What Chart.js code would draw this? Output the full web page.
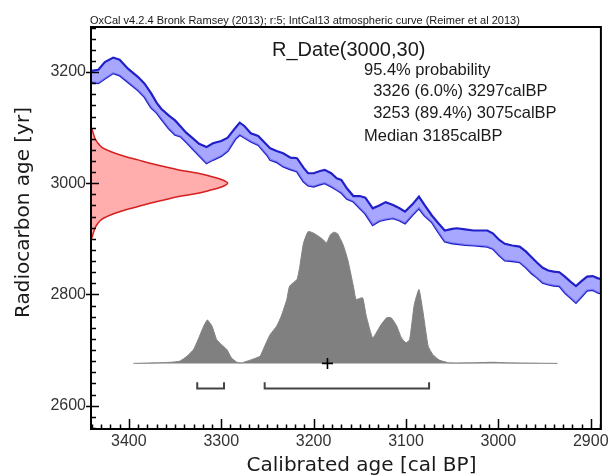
<!DOCTYPE html>
<html>
<head>
<meta charset="utf-8">
<script src="https://cdn.jsdelivr.net/npm/chart.js@4"></script>
<style>
  html, body { margin: 0; padding: 0; background: #fff; }
  canvas { display: block; }
</style>
</head>
<body>
<canvas id="chart1" width="608" height="475"></canvas>
<script>
// calibration curve (IntCal13), upper and lower edge of the band
const calBP = [3441, 3433, 3426, 3417, 3410, 3401, 3390, 3383, 3376, 3370, 3365, 3357, 3350, 3344, 3338, 3331, 3324, 3316, 3309, 3300,
  3293, 3285, 3280, 3275, 3268, 3260, 3250, 3247, 3240, 3233, 3225, 3218, 3211, 3206, 3200, 3193, 3188, 3181, 3175, 3170,
  3164, 3157, 3150, 3144, 3136, 3129, 3122, 3114, 3107, 3101, 3093, 3086, 3080, 3072, 3065, 3058, 3050, 3045, 3036, 3027,
  3018, 3012, 3006, 2999, 2993, 2985, 2977, 2970, 2964, 2958, 2952, 2946, 2940, 2934, 2928, 2922, 2916, 2910, 2904, 2898, 2892, 2889]
const calUpper = [3202, 3204, 3218, 3226, 3222, 3206, 3191, 3179, 3162, 3145, 3134, 3122, 3113, 3102, 3091, 3081, 3071, 3065, 3072, 3076,
  3082, 3099, 3109, 3103, 3090, 3085, 3068, 3063, 3058, 3054, 3046, 3045, 3028, 3018, 3018, 3022, 3024, 3018, 3009, 3006,
  2991, 2977, 2977, 2974, 2955, 2960, 2966, 2961, 2955, 2949, 2962, 2976, 2961, 2942, 2928, 2915, 2918, 2919, 2917, 2915,
  2915, 2915, 2910, 2898, 2891, 2888, 2886, 2877, 2867, 2857, 2848, 2843, 2841, 2840, 2832, 2823, 2815, 2824, 2832, 2833, 2829, 2828]
const calLower = [3182, 3180, 3188, 3198, 3194, 3182, 3167, 3155, 3136, 3127, 3116, 3099, 3087, 3084, 3074, 3062, 3050, 3036, 3042, 3049,
  3058, 3079, 3087, 3082, 3075, 3069, 3050, 3042, 3038, 3030, 3025, 3021, 3003, 2996, 2994, 2998, 3000, 2994, 2988, 2983,
  2972, 2967, 2955, 2945, 2925, 2932, 2935, 2937, 2933, 2928, 2943, 2955, 2942, 2930, 2912, 2895, 2892, 2891, 2889, 2888,
  2887, 2886, 2882, 2870, 2861, 2860, 2858, 2848, 2838, 2830, 2821, 2818, 2816, 2815, 2803, 2794, 2785, 2796, 2807, 2808, 2803, 2802]

// measured date R_Date(3000,30), drawn against the y axis
const distAge = [3102, 3095, 3087, 3080, 3072, 3065, 3060, 3054, 3048, 3042, 3036, 3030, 3024, 3018, 3013, 3009, 3004, 3000,
  2996, 2991, 2987, 2982, 2976, 2970, 2964, 2958, 2952, 2946, 2940, 2935, 2928, 2920, 2913, 2905, 2898]
const distBP = [3441, 3439.5, 3438, 3436.5, 3433.5, 3429.5, 3424, 3415, 3404, 3390, 3377, 3362, 3346, 3325, 3313, 3304, 3296, 3293,
  3296, 3304, 3313, 3325, 3346, 3362, 3377, 3390, 3404, 3415, 3424, 3429.5, 3433.5, 3436.5, 3438, 3439.5, 3441]

// calibrated distribution (top edge, in y axis units)
const histBP = [3395, 3370, 3355, 3345, 3337, 3330, 3325, 3319, 3315, 3310, 3305, 3300, 3294, 3289, 3283, 3278, 3272, 3265, 3258, 3253,
  3247, 3240, 3235, 3229, 3226, 3218, 3215, 3211, 3206, 3201, 3195, 3190, 3186, 3182, 3178, 3174, 3168, 3163, 3157, 3154,
  3147, 3143, 3136, 3128, 3121, 3116, 3110, 3105, 3100, 3096, 3091, 3086, 3082, 3076, 3071, 3064, 3053, 3030, 3005, 2990, 2936]
const histAge = [2676, 2677, 2678, 2680, 2689, 2701, 2719, 2743, 2754, 2743, 2719, 2710, 2701, 2686, 2678, 2677, 2680, 2684, 2689, 2707,
  2728, 2743, 2761, 2791, 2815, 2827, 2850, 2892, 2913, 2911, 2905, 2899, 2893, 2907, 2912, 2909, 2889, 2862, 2815, 2791,
  2794, 2761, 2722, 2743, 2758, 2758, 2743, 2722, 2713, 2719, 2782, 2809, 2773, 2707, 2692, 2682, 2677, 2677, 2678, 2677, 2676]
const histBase = 2676

// 95.4% ranges and median
const rangeFrom = [3326, 3253]
const rangeTo = [3297, 3075]
const medianBP = 3185

const xLabels = [3400, 3300, 3200, 3100, 3000, 2900]
const yLabels = [2600, 2800, 3000, 3200]

const headerText = 'OxCal v4.2.4 Bronk Ramsey (2013); r:5; IntCal13 atmospheric curve (Reimer et al 2013)'
const infoLines = ['95.4% probability', '  3326 (6.0%) 3297calBP', '  3253 (89.4%) 3075calBP', 'Median 3185calBP']

const xMin = 2889, xMax = 3441
const yMin = 2558, yMax = 3281

const pts = (xs, ys) => xs.map((x, i) => ({x: x, y: ys[i]}))

// brackets under the distribution
const bracketY = 2631, bracketTop = 2642
const brackets = rangeFrom.map((f, i) => ({
  data: [{x: f, y: bracketTop}, {x: f, y: bracketY}, {x: rangeTo[i], y: bracketY}, {x: rangeTo[i], y: bracketTop}],
  borderColor: '#444', borderWidth: 2, pointRadius: 0, fill: false
}))

const framePlugin = {
  id: 'frame',
  afterDraw(chart) {
    const ctx = chart.ctx
    const a = chart.chartArea
    const xs = chart.scales.x, ys = chart.scales.y
    ctx.save()
    ctx.strokeStyle = '#000'
    ctx.lineWidth = 1.5
    ctx.beginPath()
    xs.ticks.forEach(t => {
      const p = Math.round(xs.getPixelForValue(t.value)) + 0.5
      const len = xLabels.includes(t.value) ? 10 : 4.5
      ctx.moveTo(p, a.bottom)
      ctx.lineTo(p, a.bottom - len)
    })
    ys.ticks.forEach(t => {
      const p = Math.round(ys.getPixelForValue(t.value)) + 0.5
      if (yLabels.includes(t.value)) {
        ctx.moveTo(a.left - 5, p)
        ctx.lineTo(a.left + 8, p)
      } else {
        ctx.moveTo(a.left, p)
        ctx.lineTo(a.left + 5, p)
      }
    })
    ctx.stroke()
    ctx.lineWidth = 2
    ctx.strokeRect(a.left, a.top, a.right - a.left, a.bottom - a.top)

    // texts
    ctx.fillStyle = '#1a1a1a'
    ctx.textAlign = 'left'
    ctx.textBaseline = 'alphabetic'
    ctx.font = '11px "Liberation Sans", Arial, sans-serif'
    ctx.fillText(headerText, 90, 24)
    ctx.font = '20px "Liberation Sans", Arial, sans-serif'
    ctx.fillText('R_Date(3000,30)', 272, 56)
    ctx.font = '16.5px "Liberation Sans", Arial, sans-serif'
    const ly = [74.7, 96.3, 118, 141.3]
    infoLines.forEach((s, i) => ctx.fillText(s, 364, ly[i]))

    ctx.font = '20px "DejaVu Sans", sans-serif'
    ctx.textAlign = 'center'
    ctx.fillText('Calibrated age [cal BP]', 361.5, 471)
    ctx.translate(28.5, 212.5)
    ctx.rotate(-Math.PI / 2)
    ctx.fillText('Radiocarbon age [yr]', 0, 0)
    ctx.restore()
  }
}

const canvas = document.getElementById('chart1')
const context = canvas.getContext('2d')

const config = {
  type: 'line',
  data: {
    datasets: [
      {
        label: 'median',
        data: [{x: medianBP, y: histBase}],
        showLine: false, pointStyle: 'cross', pointRadius: 5.5, order: -1,
        pointBorderColor: '#000', pointBorderWidth: 1.6
      },
      {
        label: 'distribution',
        data: pts(histBP, histAge),
        borderColor: '#808080', borderWidth: 1, pointRadius: 0, tension: 0.15,
        backgroundColor: '#808080', fill: {value: histBase}
      },
      ...brackets,
      {
        label: 'R_Date',
        data: pts(distBP, distAge),
        borderColor: '#d42020', borderWidth: 1.5, pointRadius: 0, tension: 0.4,
        backgroundColor: 'rgba(255, 150, 150, 0.78)', fill: 'shape'
      },
      {
        label: 'upper',
        data: pts(calBP, calUpper),
        borderColor: '#2020c8', borderWidth: 2.2, pointRadius: 0,
        backgroundColor: 'rgba(145, 145, 255, 0.8)', fill: '+1'
      },
      {
        label: 'lower',
        data: pts(calBP, calLower),
        borderColor: '#2020c8', borderWidth: 2.2, pointRadius: 0, fill: false
      }
    ]
  },
  options: {
    responsive: false,
    animation: false,
    devicePixelRatio: 1,
    layout: {padding: {left: 0, right: 7, top: 27, bottom: 0}},
    plugins: {legend: {display: false}, tooltip: {enabled: false}},
    scales: {
      x: {
        type: 'linear', reverse: true, min: xMin, max: xMax,
        grid: {display: false, drawTicks: false}, border: {display: false},
        ticks: {
          stepSize: 10, includeBounds: false, autoSkip: false, maxRotation: 0, minRotation: 0, padding: 3,
          color: '#333', font: {family: '"Liberation Sans", Arial, sans-serif', size: 16},
          callback: v => xLabels.includes(v) ? String(v) : ''
        },
        afterFit: s => { s.height = 46 }
      },
      y: {
        type: 'linear', min: yMin, max: yMax,
        grid: {display: false, drawTicks: false}, border: {display: false},
        ticks: {
          stepSize: 20, includeBounds: false, autoSkip: false, padding: 5,
          color: '#333', font: {family: '"Liberation Sans", Arial, sans-serif', size: 16},
          callback: v => yLabels.includes(v) ? String(v) : ''
        },
        afterFit: s => { s.width = 91 }
      }
    }
  },
  plugins: [framePlugin]
}

const myChart = new Chart(context, config)
</script>
</body>
</html>
